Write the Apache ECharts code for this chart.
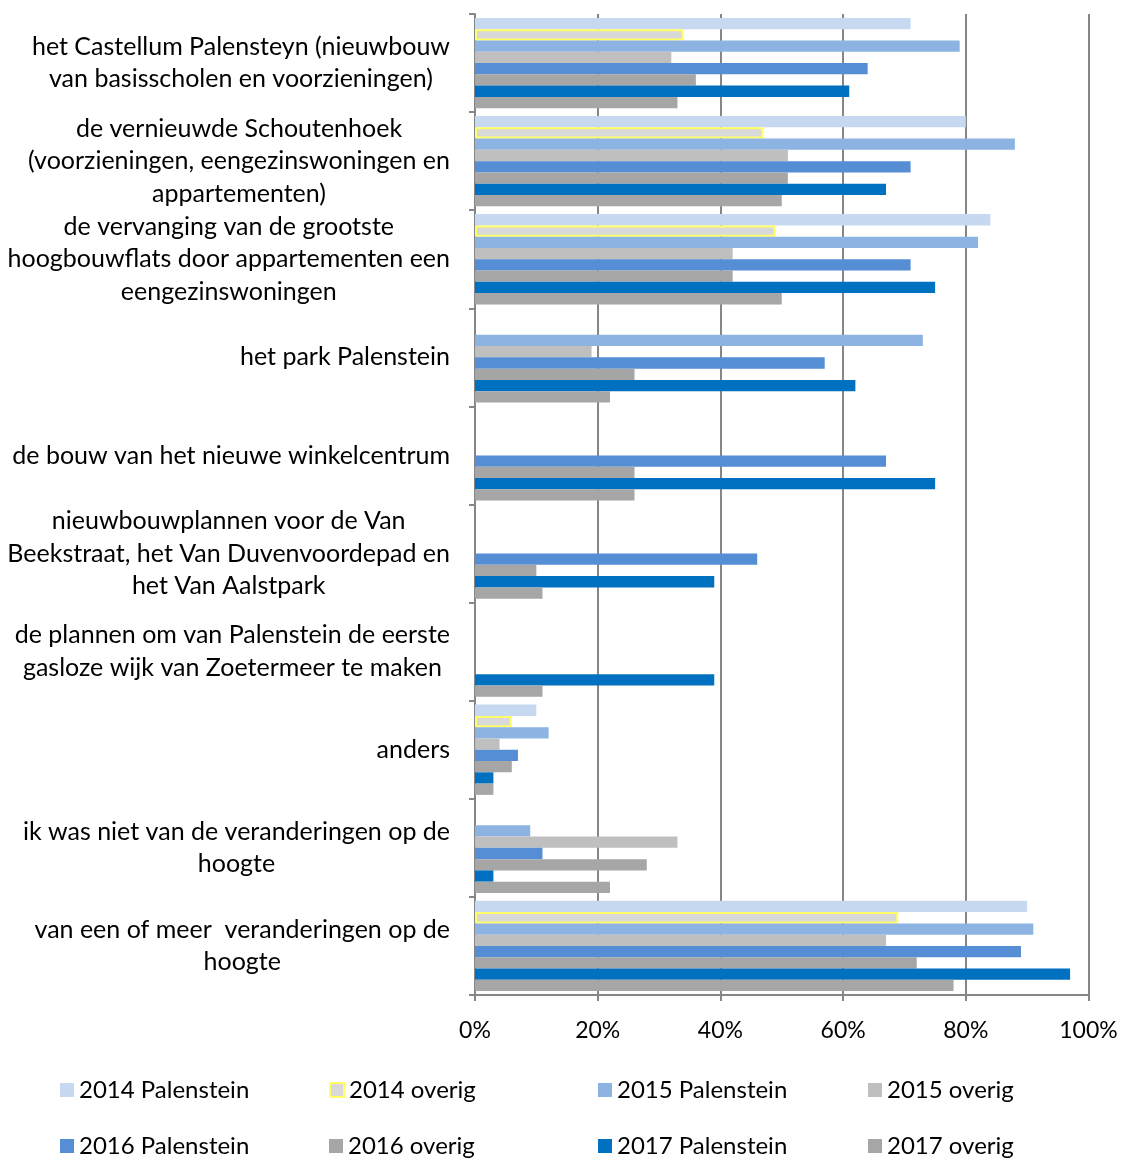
<!DOCTYPE html>
<html>
<head>
<meta charset="utf-8">
<script src="https://cdn.jsdelivr.net/npm/echarts@6/dist/echarts.min.js"></script>
<style>
  html, body { margin: 0; padding: 0; background: #fff; }
  #chart { width: 1126px; height: 1159px; }
</style>
</head>
<body>
<div id="chart"></div>
<script>
// categories, top to bottom
const categories = [
  'het Castellum Palensteyn (nieuwbouw\nvan basisscholen en voorzieningen)',
  'de vernieuwde Schoutenhoek\n(voorzieningen, eengezinswoningen en\nappartementen)',
  'de vervanging van de grootste\nhoogbouwflats door appartementen een\neengezinswoningen',
  'het park Palenstein',
  'de bouw van het nieuwe winkelcentrum',
  'nieuwbouwplannen voor de Van\nBeekstraat, het Van Duvenvoordepad en\nhet Van Aalstpark',
  'de plannen om van Palenstein de eerste\ngasloze wijk van Zoetermeer te maken',
  'anders',
  'ik was niet van de veranderingen op de\nhoogte',
  'van een of meer  veranderingen op de\nhoogte'
]

// values in %
const pal2014 = [71, 80, 84, null, null, null, null, 10, null, 90]
const ov2014 = [34, 47, 49, null, null, null, null, 6, null, 69]
const pal2015 = [79, 88, 82, 73, null, null, null, 12, 9, 91]
const ov2015 = [32, 51, 42, 19, null, null, null, 4, 33, 67]
const pal2016 = [64, 71, 71, 57, 67, 46, null, 7, 11, 89]
const ov2016 = [36, 51, 42, 26, 26, 10, null, 6, 28, 72]
const pal2017 = [61, 67, 75, 62, 75, 39, 39, 3, 3, 97]
const ov2017 = [33, 50, 50, 22, 26, 11, 11, 3, 22, 78]

const xTicks = [0, 20, 40, 60, 80, 100]

const font = 'Lato'

const seriesDefs = [
  { name: '2014 Palenstein', data: pal2014, color: '#C6D9F1' },
  { name: '2014 overig', data: ov2014, color: '#D9D9D9', border: '#FFFF66' },
  { name: '2015 Palenstein', data: pal2015, color: '#8DB3E2' },
  { name: '2015 overig', data: ov2015, color: '#BFBFBF' },
  { name: '2016 Palenstein', data: pal2016, color: '#558ED5' },
  { name: '2016 overig', data: ov2016, color: '#A6A6A6' },
  { name: '2017 Palenstein', data: pal2017, color: '#0070C0' },
  { name: '2017 overig', data: ov2017, color: '#A6A6A6' }
]

const series = seriesDefs.map(s => ({
  name: s.name,
  type: 'bar',
  data: s.data,
  barGap: '0%',
  barCategoryGap: '8%',
  itemStyle: {
    color: s.color,
    borderColor: s.border || s.color,
    borderWidth: s.border ? 2 : 0
  }
}))

// legend: one small legend per item, 4 columns x 2 rows
const legendLefts = [60, 329, 598, 868]
const legendTops = [1078, 1134]
const legends = seriesDefs.map((s, i) => ({
  left: legendLefts[i % 4],
  top: legendTops[Math.floor(i / 4)],
  padding: 0,
  itemWidth: 14,
  itemHeight: 14,
  itemTextGap: 6,
  icon: 'rect',
  selectedMode: false,
  data: [s.name],
  textStyle: { fontFamily: font, fontSize: 24, color: '#000', lineHeight: 24 }
}))

const chart = echarts.init(document.getElementById('chart'))

chart.setOption({
  animation: false,
  grid: { left: 475, right: 37.5, top: 14, bottom: 164 },
  legend: legends,
  xAxis: {
    type: 'value',
    min: 0,
    max: 100,
    interval: 20,
    axisLine: { show: true, lineStyle: { color: '#868686', width: 2 } },
    axisTick: { show: true, length: 6, lineStyle: { color: '#868686', width: 2 } },
    splitLine: { show: true, lineStyle: { color: '#868686', width: 2 } },
    axisLabel: {
      margin: 24,
      fontFamily: font,
      fontSize: 23,
      color: '#000',
      formatter: v => xTicks.indexOf(v) >= 0 ? v + '%' : ''
    }
  },
  yAxis: {
    type: 'category',
    inverse: true,
    data: categories,
    axisLine: { show: true, lineStyle: { color: '#868686', width: 2 } },
    axisTick: { show: true, length: 6, lineStyle: { color: '#868686', width: 2 } },
    axisLabel: {
      margin: 25,
      align: 'right',
      fontFamily: font,
      fontSize: 25,
      color: '#000',
      formatter: v => v.split('\n').map(l => '{c|' + l + '}').join('\n'),
      rich: {
        c: { align: 'center', fontFamily: font, fontSize: 25, lineHeight: 32.5, color: '#000' }
      }
    }
  },
  series: series
})
</script>
</body>
</html>
